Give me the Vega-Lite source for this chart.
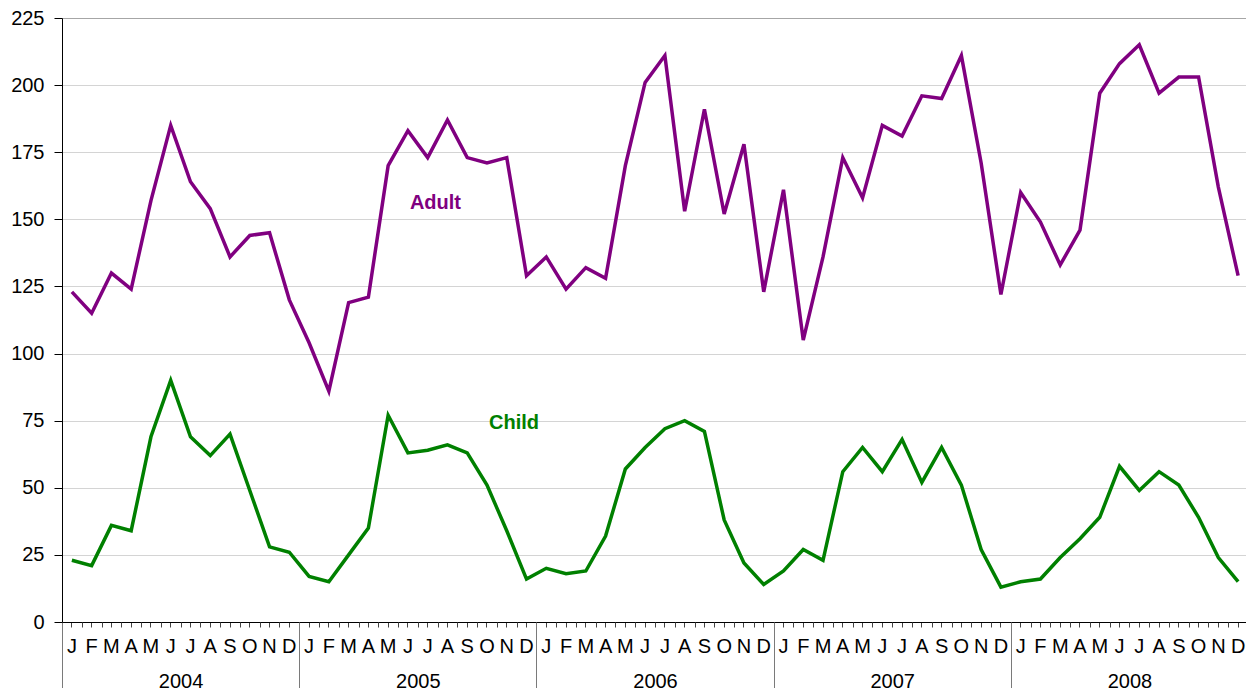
{
  "$schema": "https://vega.github.io/schema/vega-lite/v6.json",
  "width": 1186,
  "height": 604,
  "autosize": {"type": "none"},
  "padding": {"left": 62, "top": 18, "right": 0, "bottom": 66},
  "background": "white",
  "config": {
    "view": {"stroke": null},
    "font": "Liberation Sans",
    "axis": {"labelFont": "Liberation Sans", "labelFontSize": 20, "labelColor": "#000000", "title": null}
  },
  "datasets": {
    "monthly": [
      {"i": 0, "year": 2004, "month": "J", "Adult": 123, "Child": 23},
      {"i": 1, "year": 2004, "month": "F", "Adult": 115, "Child": 21},
      {"i": 2, "year": 2004, "month": "M", "Adult": 130, "Child": 36},
      {"i": 3, "year": 2004, "month": "A", "Adult": 124, "Child": 34},
      {"i": 4, "year": 2004, "month": "M", "Adult": 157, "Child": 69},
      {"i": 5, "year": 2004, "month": "J", "Adult": 185, "Child": 90},
      {"i": 6, "year": 2004, "month": "J", "Adult": 164, "Child": 69},
      {"i": 7, "year": 2004, "month": "A", "Adult": 154, "Child": 62},
      {"i": 8, "year": 2004, "month": "S", "Adult": 136, "Child": 70},
      {"i": 9, "year": 2004, "month": "O", "Adult": 144, "Child": 49},
      {"i": 10, "year": 2004, "month": "N", "Adult": 145, "Child": 28},
      {"i": 11, "year": 2004, "month": "D", "Adult": 120, "Child": 26},
      {"i": 12, "year": 2005, "month": "J", "Adult": 104, "Child": 17},
      {"i": 13, "year": 2005, "month": "F", "Adult": 86, "Child": 15},
      {"i": 14, "year": 2005, "month": "M", "Adult": 119, "Child": 25},
      {"i": 15, "year": 2005, "month": "A", "Adult": 121, "Child": 35},
      {"i": 16, "year": 2005, "month": "M", "Adult": 170, "Child": 77},
      {"i": 17, "year": 2005, "month": "J", "Adult": 183, "Child": 63},
      {"i": 18, "year": 2005, "month": "J", "Adult": 173, "Child": 64},
      {"i": 19, "year": 2005, "month": "A", "Adult": 187, "Child": 66},
      {"i": 20, "year": 2005, "month": "S", "Adult": 173, "Child": 63},
      {"i": 21, "year": 2005, "month": "O", "Adult": 171, "Child": 51},
      {"i": 22, "year": 2005, "month": "N", "Adult": 173, "Child": 34},
      {"i": 23, "year": 2005, "month": "D", "Adult": 129, "Child": 16},
      {"i": 24, "year": 2006, "month": "J", "Adult": 136, "Child": 20},
      {"i": 25, "year": 2006, "month": "F", "Adult": 124, "Child": 18},
      {"i": 26, "year": 2006, "month": "M", "Adult": 132, "Child": 19},
      {"i": 27, "year": 2006, "month": "A", "Adult": 128, "Child": 32},
      {"i": 28, "year": 2006, "month": "M", "Adult": 170, "Child": 57},
      {"i": 29, "year": 2006, "month": "J", "Adult": 201, "Child": 65},
      {"i": 30, "year": 2006, "month": "J", "Adult": 211, "Child": 72},
      {"i": 31, "year": 2006, "month": "A", "Adult": 153, "Child": 75},
      {"i": 32, "year": 2006, "month": "S", "Adult": 191, "Child": 71},
      {"i": 33, "year": 2006, "month": "O", "Adult": 152, "Child": 38},
      {"i": 34, "year": 2006, "month": "N", "Adult": 178, "Child": 22},
      {"i": 35, "year": 2006, "month": "D", "Adult": 123, "Child": 14},
      {"i": 36, "year": 2007, "month": "J", "Adult": 161, "Child": 19},
      {"i": 37, "year": 2007, "month": "F", "Adult": 105, "Child": 27},
      {"i": 38, "year": 2007, "month": "M", "Adult": 136, "Child": 23},
      {"i": 39, "year": 2007, "month": "A", "Adult": 173, "Child": 56},
      {"i": 40, "year": 2007, "month": "M", "Adult": 158, "Child": 65},
      {"i": 41, "year": 2007, "month": "J", "Adult": 185, "Child": 56},
      {"i": 42, "year": 2007, "month": "J", "Adult": 181, "Child": 68},
      {"i": 43, "year": 2007, "month": "A", "Adult": 196, "Child": 52},
      {"i": 44, "year": 2007, "month": "S", "Adult": 195, "Child": 65},
      {"i": 45, "year": 2007, "month": "O", "Adult": 211, "Child": 51},
      {"i": 46, "year": 2007, "month": "N", "Adult": 171, "Child": 27},
      {"i": 47, "year": 2007, "month": "D", "Adult": 122, "Child": 13},
      {"i": 48, "year": 2008, "month": "J", "Adult": 160, "Child": 15},
      {"i": 49, "year": 2008, "month": "F", "Adult": 149, "Child": 16},
      {"i": 50, "year": 2008, "month": "M", "Adult": 133, "Child": 24},
      {"i": 51, "year": 2008, "month": "A", "Adult": 146, "Child": 31},
      {"i": 52, "year": 2008, "month": "M", "Adult": 197, "Child": 39},
      {"i": 53, "year": 2008, "month": "J", "Adult": 208, "Child": 58},
      {"i": 54, "year": 2008, "month": "J", "Adult": 215, "Child": 49},
      {"i": 55, "year": 2008, "month": "A", "Adult": 197, "Child": 56},
      {"i": 56, "year": 2008, "month": "S", "Adult": 203, "Child": 51},
      {"i": 57, "year": 2008, "month": "O", "Adult": 203, "Child": 39},
      {"i": 58, "year": 2008, "month": "N", "Adult": 162, "Child": 24},
      {"i": 59, "year": 2008, "month": "D", "Adult": 129, "Child": 15}
    ],
    "notes": [
      {"label": "Adult", "i": 17, "value": 156},
      {"label": "Child", "i": 21, "value": 74}
    ]
  },
  "data": {"name": "monthly"},
  "resolve": {"scale": {"x": "independent"}},
  "layer": [
    {
      "layer": [
        {
          "mark": {"type": "line", "color": "#800080", "strokeWidth": 3.5},
          "encoding": {
            "x": {
              "field": "i",
              "type": "ordinal",
              "scale": {"type": "band", "paddingInner": 0, "paddingOuter": 0},
              "axis": {
                "orient": "bottom",
                "domain": true,
                "domainColor": "#000000",
                "ticks": true,
                "tickSize": 5,
                "tickColor": "#444444",
                "labelAngle": 0,
                "labelPadding": 9.5,
                "labelOverlap": false,
                "labelBound": false,
                "labelFlush": false,
                "grid": false,
                "labelExpr": "substring('JFMAMJJASOND', datum.value % 12, datum.value % 12 + 1)"
              }
            },
            "y": {
              "field": "Adult",
              "type": "quantitative",
              "scale": {"domain": [0, 225], "nice": false},
              "axis": {
                "values": [0, 25, 50, 75, 100, 125, 150, 175, 200, 225],
                "domain": true,
                "domainColor": "#000000",
                "domainWidth": 1,
                "tickColor": "#000000",
                "tickSize": 8,
                "labelPadding": 10,
                "grid": true,
                "gridColor": {"condition": {"test": "datum.value === 225", "value": "#a6a6a6"}, "value": "#d4d4d4"},
                "gridWidth": 1
              }
            }
          }
        },
        {
          "data": {"name": "notes"},
          "mark": {"type": "text", "fontWeight": "bold", "fontSize": 20, "align": "left", "baseline": "middle", "dx": 2, "font": "Liberation Sans"},
          "encoding": {
            "x": {"field": "i", "type": "ordinal", "scale": {"type": "band", "paddingInner": 0, "paddingOuter": 0}},
            "y": {"field": "value", "type": "quantitative"},
            "text": {"field": "label"},
            "color": {"field": "label", "type": "nominal", "scale": {"domain": ["Adult", "Child"], "range": ["#800080", "#008000"]}, "legend": null}
          }
        }
      ]
    },
    {
      "mark": {"type": "line", "color": "#008000", "strokeWidth": 3.5},
      "encoding": {
        "x": {
          "field": "i",
          "type": "ordinal",
          "scale": {"type": "band", "paddingInner": 0, "paddingOuter": 0},
          "axis": {
            "orient": "bottom",
            "domain": false,
            "ticks": true,
            "tickBand": "extent",
            "tickSize": {"condition": {"test": "datum.value % 12 === 11 || datum.extra", "value": 66}, "value": 5},
            "tickColor": {"condition": {"test": "datum.value % 12 === 11 || datum.extra", "value": "#7a7a7a"}, "value": "#444444"},
            "labelAngle": 0,
            "labelPadding": 44.5,
            "labelOffset": -9.88,
            "labelOverlap": false,
            "labelBound": false,
            "labelFlush": false,
            "grid": false,
            "labelExpr": "datum.value % 12 === 6 ? '' + (2004 + floor(datum.value / 12)) : ''"
          }
        },
        "y": {"field": "Child", "type": "quantitative"}
      }
    }
  ]
}
